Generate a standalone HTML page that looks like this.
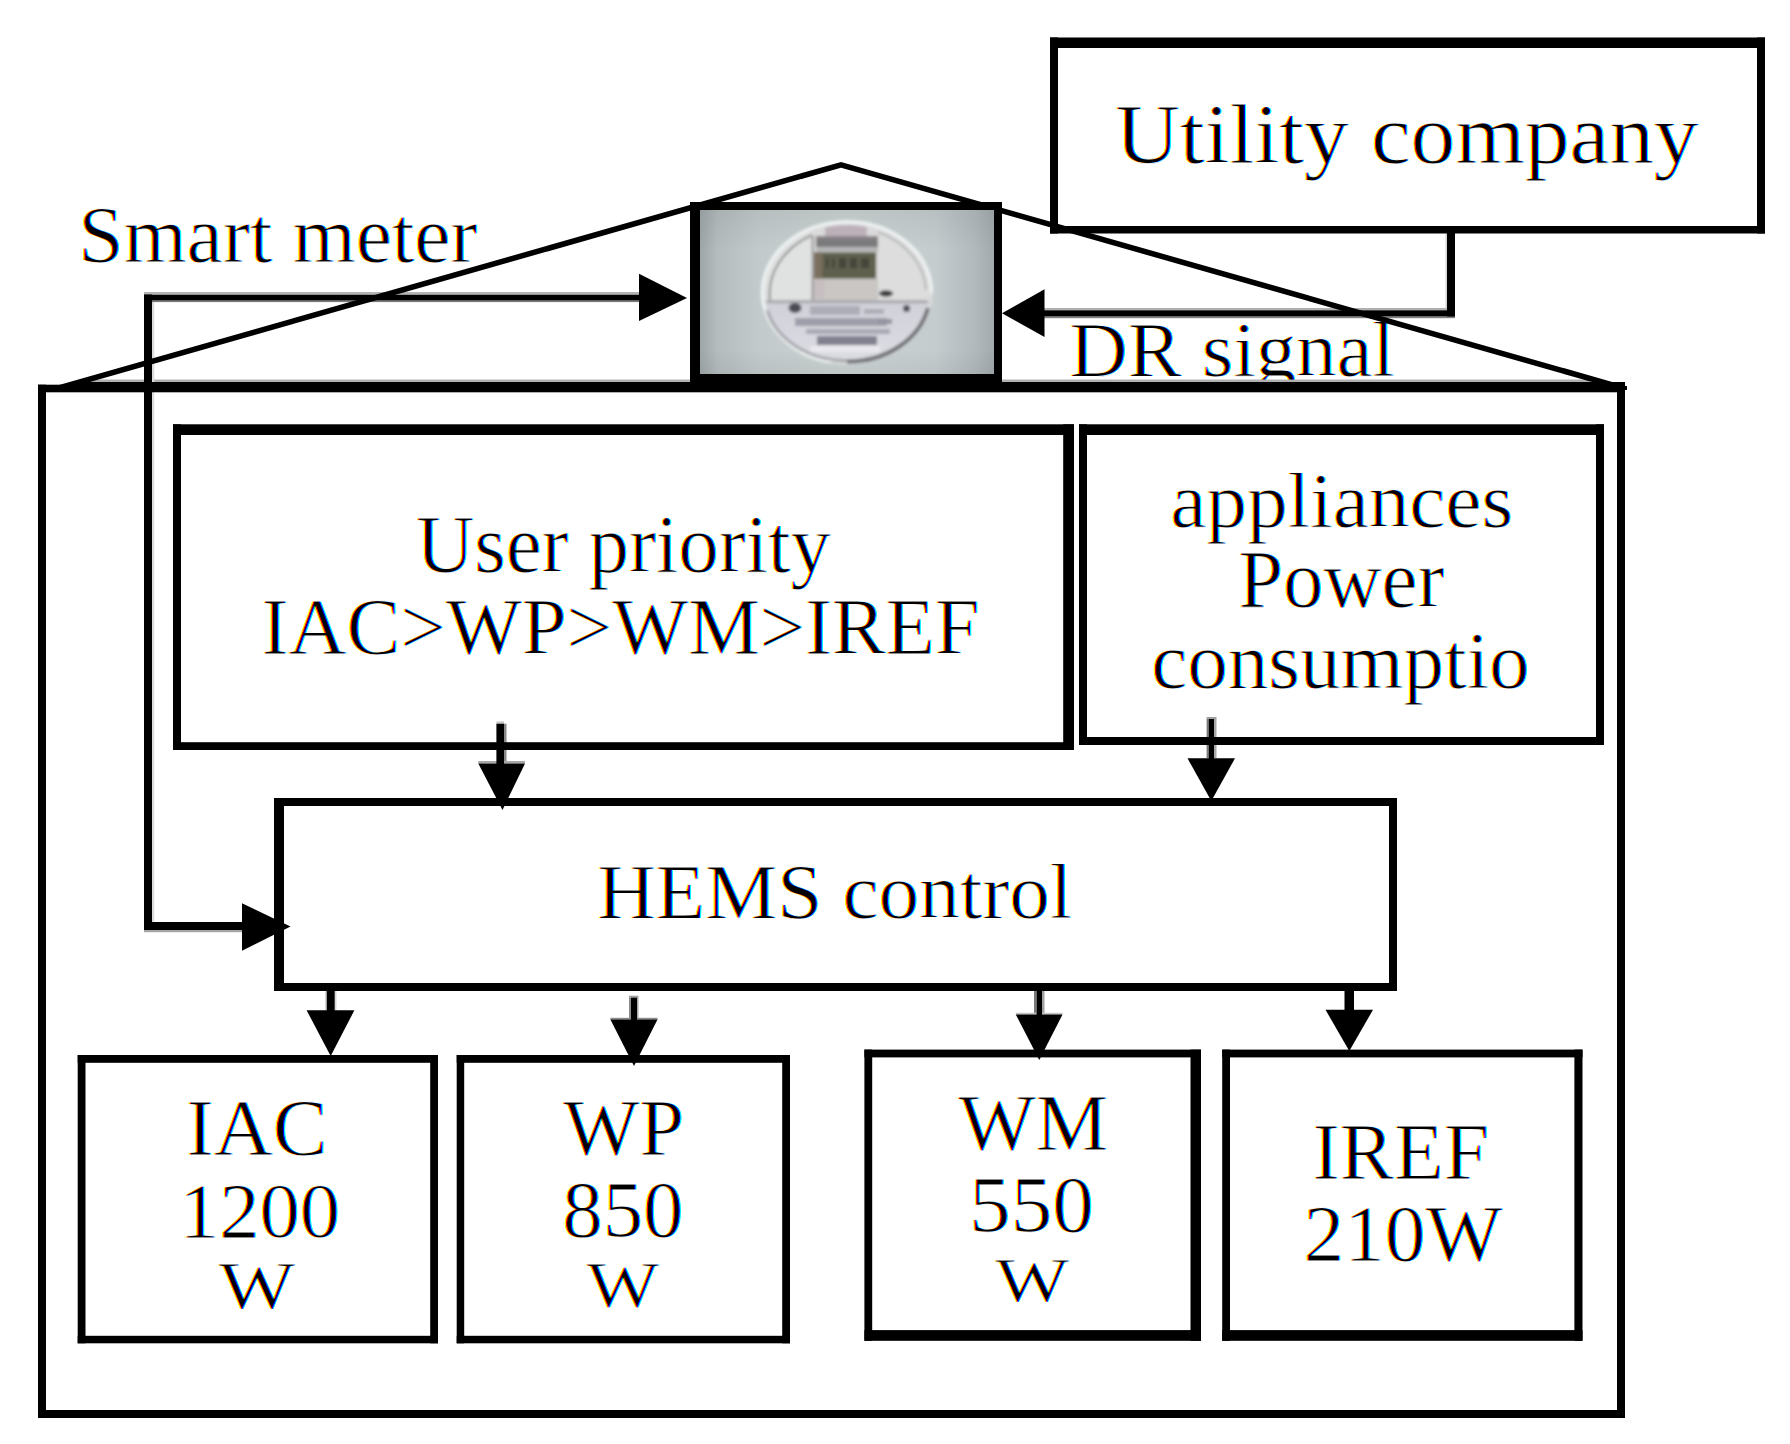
<!DOCTYPE html>
<html><head><meta charset="utf-8"><style>
html,body{margin:0;padding:0;background:#fff;}
svg{display:block;}
text{font-family:"Liberation Serif",serif;font-size:100px;stroke:#fff;}
.fb{display:none;}
@supports not (mix-blend-mode:multiply){.ct{display:none;}.fb{display:inline;}}
</style></head><body>
<svg width="1790" height="1444" viewBox="0 0 1790 1444">
<rect width="1790" height="1444" fill="#fff"/>
<clipPath id="drclip"><rect x="1000" y="300" width="500" height="80"/></clipPath>
<g class="ct" style="mix-blend-mode:multiply"><g transform="translate(-1.2 0)">
<text transform="translate(78.32 262.2) scale(0.812 0.8123)" stroke-width="1.17" fill="#ffff00">Smart meter</text>
<text transform="translate(1115.21 163.3) scale(0.8938 0.84)" stroke-width="1.096" fill="#ffff00">Utility company</text>
<g clip-path="url(#drclip)"><text transform="translate(1069.28 375.5) scale(0.8083 0.7908)" stroke-width="1.188" fill="#ffff00">DR signal</text></g>
<text transform="translate(415.99 572) scale(0.8074 0.8169)" stroke-width="1.17" fill="#ffff00">User priority</text>
<text transform="translate(261.48 654.2) scale(0.8057 0.7938)" stroke-width="1.188" fill="#ffff00">IAC&gt;WP&gt;WM&gt;IREF</text>
<text transform="translate(1170.25 527) scale(0.8123 0.7928)" stroke-width="1.184" fill="#ffff00">appliances</text>
<text transform="translate(1238.18 607) scale(0.8067 0.8169)" stroke-width="1.17" fill="#ffff00">Power</text>
<text transform="translate(1151.26 688) scale(0.8107 0.8036)" stroke-width="1.177" fill="#ffff00">consumptio</text>
<text transform="translate(596.97 918.3) scale(0.811 0.7877)" stroke-width="1.188" fill="#ffff00">HEMS control</text>
<text transform="translate(186.22 1154.5) scale(0.8202 0.7969)" stroke-width="1.175" fill="#ffff00">IAC</text>
<text transform="translate(179.06 1236.5) scale(0.8048 0.7848)" stroke-width="1.195" fill="#ffff00">1200</text>
<text transform="translate(218.4 1307.65) scale(0.8128 0.6761)" stroke-width="1.276" fill="#ffff00">W</text>
<text transform="translate(563.1 1154.5) scale(0.8075 0.7969)" stroke-width="1.184" fill="#ffff00">WP</text>
<text transform="translate(562.27 1236.5) scale(0.8077 0.7954)" stroke-width="1.185" fill="#ffff00">850</text>
<text transform="translate(586.2 1306.89) scale(0.7713 0.6537)" stroke-width="1.333" fill="#ffff00">W</text>
<text transform="translate(958.3 1149.5) scale(0.8172 0.8138)" stroke-width="1.165" fill="#ffff00">WM</text>
<text transform="translate(969.12 1231.6) scale(0.8307 0.8031)" stroke-width="1.163" fill="#ffff00">550</text>
<text transform="translate(994.9 1302.24) scale(0.7862 0.6313)" stroke-width="1.34" fill="#ffff00">W</text>
<text transform="translate(1312.44 1178.7) scale(0.8148 0.8)" stroke-width="1.177" fill="#ffff00">IREF</text>
<text transform="translate(1303.44 1261) scale(0.8137 0.8015)" stroke-width="1.176" fill="#ffff00">210W</text>
</g></g>
<g class="ct" style="mix-blend-mode:multiply"><g transform="translate(0 0)">
<text transform="translate(78.32 262.2) scale(0.812 0.8123)" stroke-width="1.17" fill="#ff00ff">Smart meter</text>
<text transform="translate(1115.21 163.3) scale(0.8938 0.84)" stroke-width="1.096" fill="#ff00ff">Utility company</text>
<g clip-path="url(#drclip)"><text transform="translate(1069.28 375.5) scale(0.8083 0.7908)" stroke-width="1.188" fill="#ff00ff">DR signal</text></g>
<text transform="translate(415.99 572) scale(0.8074 0.8169)" stroke-width="1.17" fill="#ff00ff">User priority</text>
<text transform="translate(261.48 654.2) scale(0.8057 0.7938)" stroke-width="1.188" fill="#ff00ff">IAC&gt;WP&gt;WM&gt;IREF</text>
<text transform="translate(1170.25 527) scale(0.8123 0.7928)" stroke-width="1.184" fill="#ff00ff">appliances</text>
<text transform="translate(1238.18 607) scale(0.8067 0.8169)" stroke-width="1.17" fill="#ff00ff">Power</text>
<text transform="translate(1151.26 688) scale(0.8107 0.8036)" stroke-width="1.177" fill="#ff00ff">consumptio</text>
<text transform="translate(596.97 918.3) scale(0.811 0.7877)" stroke-width="1.188" fill="#ff00ff">HEMS control</text>
<text transform="translate(186.22 1154.5) scale(0.8202 0.7969)" stroke-width="1.175" fill="#ff00ff">IAC</text>
<text transform="translate(179.06 1236.5) scale(0.8048 0.7848)" stroke-width="1.195" fill="#ff00ff">1200</text>
<text transform="translate(218.4 1307.65) scale(0.8128 0.6761)" stroke-width="1.276" fill="#ff00ff">W</text>
<text transform="translate(563.1 1154.5) scale(0.8075 0.7969)" stroke-width="1.184" fill="#ff00ff">WP</text>
<text transform="translate(562.27 1236.5) scale(0.8077 0.7954)" stroke-width="1.185" fill="#ff00ff">850</text>
<text transform="translate(586.2 1306.89) scale(0.7713 0.6537)" stroke-width="1.333" fill="#ff00ff">W</text>
<text transform="translate(958.3 1149.5) scale(0.8172 0.8138)" stroke-width="1.165" fill="#ff00ff">WM</text>
<text transform="translate(969.12 1231.6) scale(0.8307 0.8031)" stroke-width="1.163" fill="#ff00ff">550</text>
<text transform="translate(994.9 1302.24) scale(0.7862 0.6313)" stroke-width="1.34" fill="#ff00ff">W</text>
<text transform="translate(1312.44 1178.7) scale(0.8148 0.8)" stroke-width="1.177" fill="#ff00ff">IREF</text>
<text transform="translate(1303.44 1261) scale(0.8137 0.8015)" stroke-width="1.176" fill="#ff00ff">210W</text>
</g></g>
<g class="ct" style="mix-blend-mode:multiply"><g transform="translate(1.2 0)">
<text transform="translate(78.32 262.2) scale(0.812 0.8123)" stroke-width="1.17" fill="#00ffff">Smart meter</text>
<text transform="translate(1115.21 163.3) scale(0.8938 0.84)" stroke-width="1.096" fill="#00ffff">Utility company</text>
<g clip-path="url(#drclip)"><text transform="translate(1069.28 375.5) scale(0.8083 0.7908)" stroke-width="1.188" fill="#00ffff">DR signal</text></g>
<text transform="translate(415.99 572) scale(0.8074 0.8169)" stroke-width="1.17" fill="#00ffff">User priority</text>
<text transform="translate(261.48 654.2) scale(0.8057 0.7938)" stroke-width="1.188" fill="#00ffff">IAC&gt;WP&gt;WM&gt;IREF</text>
<text transform="translate(1170.25 527) scale(0.8123 0.7928)" stroke-width="1.184" fill="#00ffff">appliances</text>
<text transform="translate(1238.18 607) scale(0.8067 0.8169)" stroke-width="1.17" fill="#00ffff">Power</text>
<text transform="translate(1151.26 688) scale(0.8107 0.8036)" stroke-width="1.177" fill="#00ffff">consumptio</text>
<text transform="translate(596.97 918.3) scale(0.811 0.7877)" stroke-width="1.188" fill="#00ffff">HEMS control</text>
<text transform="translate(186.22 1154.5) scale(0.8202 0.7969)" stroke-width="1.175" fill="#00ffff">IAC</text>
<text transform="translate(179.06 1236.5) scale(0.8048 0.7848)" stroke-width="1.195" fill="#00ffff">1200</text>
<text transform="translate(218.4 1307.65) scale(0.8128 0.6761)" stroke-width="1.276" fill="#00ffff">W</text>
<text transform="translate(563.1 1154.5) scale(0.8075 0.7969)" stroke-width="1.184" fill="#00ffff">WP</text>
<text transform="translate(562.27 1236.5) scale(0.8077 0.7954)" stroke-width="1.185" fill="#00ffff">850</text>
<text transform="translate(586.2 1306.89) scale(0.7713 0.6537)" stroke-width="1.333" fill="#00ffff">W</text>
<text transform="translate(958.3 1149.5) scale(0.8172 0.8138)" stroke-width="1.165" fill="#00ffff">WM</text>
<text transform="translate(969.12 1231.6) scale(0.8307 0.8031)" stroke-width="1.163" fill="#00ffff">550</text>
<text transform="translate(994.9 1302.24) scale(0.7862 0.6313)" stroke-width="1.34" fill="#00ffff">W</text>
<text transform="translate(1312.44 1178.7) scale(0.8148 0.8)" stroke-width="1.177" fill="#00ffff">IREF</text>
<text transform="translate(1303.44 1261) scale(0.8137 0.8015)" stroke-width="1.176" fill="#00ffff">210W</text>
</g></g>
<g class="fb">
<text transform="translate(78.32 262.2) scale(0.812 0.8123)" stroke-width="1.17" fill="#000">Smart meter</text>
<text transform="translate(1115.21 163.3) scale(0.8938 0.84)" stroke-width="1.096" fill="#000">Utility company</text>
<g clip-path="url(#drclip)"><text transform="translate(1069.28 375.5) scale(0.8083 0.7908)" stroke-width="1.188" fill="#000">DR signal</text></g>
<text transform="translate(415.99 572) scale(0.8074 0.8169)" stroke-width="1.17" fill="#000">User priority</text>
<text transform="translate(261.48 654.2) scale(0.8057 0.7938)" stroke-width="1.188" fill="#000">IAC&gt;WP&gt;WM&gt;IREF</text>
<text transform="translate(1170.25 527) scale(0.8123 0.7928)" stroke-width="1.184" fill="#000">appliances</text>
<text transform="translate(1238.18 607) scale(0.8067 0.8169)" stroke-width="1.17" fill="#000">Power</text>
<text transform="translate(1151.26 688) scale(0.8107 0.8036)" stroke-width="1.177" fill="#000">consumptio</text>
<text transform="translate(596.97 918.3) scale(0.811 0.7877)" stroke-width="1.188" fill="#000">HEMS control</text>
<text transform="translate(186.22 1154.5) scale(0.8202 0.7969)" stroke-width="1.175" fill="#000">IAC</text>
<text transform="translate(179.06 1236.5) scale(0.8048 0.7848)" stroke-width="1.195" fill="#000">1200</text>
<text transform="translate(218.4 1307.65) scale(0.8128 0.6761)" stroke-width="1.276" fill="#000">W</text>
<text transform="translate(563.1 1154.5) scale(0.8075 0.7969)" stroke-width="1.184" fill="#000">WP</text>
<text transform="translate(562.27 1236.5) scale(0.8077 0.7954)" stroke-width="1.185" fill="#000">850</text>
<text transform="translate(586.2 1306.89) scale(0.7713 0.6537)" stroke-width="1.333" fill="#000">W</text>
<text transform="translate(958.3 1149.5) scale(0.8172 0.8138)" stroke-width="1.165" fill="#000">WM</text>
<text transform="translate(969.12 1231.6) scale(0.8307 0.8031)" stroke-width="1.163" fill="#000">550</text>
<text transform="translate(994.9 1302.24) scale(0.7862 0.6313)" stroke-width="1.34" fill="#000">W</text>
<text transform="translate(1312.44 1178.7) scale(0.8148 0.8)" stroke-width="1.177" fill="#000">IREF</text>
<text transform="translate(1303.44 1261) scale(0.8137 0.8015)" stroke-width="1.176" fill="#000">210W</text>
</g>

<rect x="88" y="379.5" width="1502" height="2.5" fill="#b0b0b0"/>
<rect x="1040" y="308" width="407" height="2.3" fill="#b0b0b0"/>
<rect x="1040" y="316.2" width="415" height="2.0" fill="#808080"/>
<rect x="1445.5" y="234" width="1.5" height="74" fill="#d4d4d4"/>
<rect x="152" y="302" width="2.3" height="620" fill="#dcdcdc"/>
<rect x="144" y="292" width="497" height="2.75" fill="#b4b4b4"/>
<rect x="152" y="300" width="489" height="2.1" fill="#7a7a7a"/>
<rect x="144" y="929.8" width="100" height="2.4" fill="#a4a4a4"/>
<rect x="504" y="723.7" width="2.5" height="37.3" fill="#8a8a8a"/>
<rect x="496.4" y="721.4" width="7.6" height="2.3" fill="#c8c8c8"/>
<rect x="478.3" y="761" width="46.7" height="2.4" fill="#a8a8a8"/>
<rect x="1206.6" y="719" width="2.1" height="39" fill="#7a7a7a"/>
<rect x="1214" y="719" width="2.5" height="39" fill="#a8a8a8"/>
<rect x="1206.6" y="717" width="9.9" height="2.2" fill="#a0a0a0"/>
<rect x="325" y="991" width="1.7" height="19" fill="#d8d8d8"/>
<rect x="334.7" y="991" width="1.8" height="19" fill="#d8d8d8"/>
<rect x="629" y="997.7" width="2" height="20.3" fill="#8a8a8a"/>
<rect x="637" y="997.7" width="1.5" height="20.3" fill="#a8a8a8"/>
<rect x="629" y="995.7" width="9.5" height="2.2" fill="#a0a0a0"/>
<rect x="610.4" y="1017.8" width="47.1" height="1.8" fill="#8a8a8a"/>
<rect x="1034" y="991" width="2.6" height="22" fill="#7a7a7a"/>
<rect x="1042" y="991" width="2.5" height="22" fill="#a0a0a0"/>
<rect x="1015.8" y="1012.8" width="46.7" height="1.8" fill="#c4c4c4"/>
<rect x="71" y="382" width="1554" height="10.3" fill="#000"/>
<rect x="38" y="384.7" width="33" height="7.6" fill="#000"/>
<clipPath id="roofclip"><rect x="38" y="0" width="1589" height="390"/></clipPath>
<rect x="38" y="384.7" width="8" height="1033.3" fill="#000"/>
<rect x="1617" y="382" width="8" height="1036" fill="#000"/>
<rect x="38" y="1410" width="1587" height="8" fill="#000"/>
<rect x="1050" y="37.5" width="715" height="10.5" fill="#000"/><rect x="1050" y="226.0" width="715" height="7.5" fill="#000"/><rect x="1050" y="37.5" width="8" height="196.0" fill="#000"/><rect x="1757" y="37.5" width="8" height="196.0" fill="#000"/>
<rect x="1447" y="226" width="8" height="90.5" fill="#000"/>
<rect x="1040" y="310.3" width="415" height="6.0" fill="#000"/>
<polygon points="1002,313.2 1044.5,289.3 1044.5,337" fill="#000"/>
<rect x="144" y="294.5" width="8" height="635.5" fill="#000"/>
<rect x="144" y="294.75" width="497" height="5.45" fill="#000"/>
<polygon points="687,298 639,273.7 639,321" fill="#000"/>
<rect x="144" y="922" width="100" height="8" fill="#000"/>
<polygon points="290.5,926.5 242,903.3 242,950.8" fill="#000"/>
<rect x="173" y="424.3" width="901" height="10.7" fill="#000"/><rect x="173" y="742.2" width="901" height="7.8" fill="#000"/><rect x="173" y="424.3" width="8" height="325.7" fill="#000"/><rect x="1063.2" y="424.3" width="10.8" height="325.7" fill="#000"/>
<rect x="1079" y="424.3" width="525" height="10.7" fill="#000"/><rect x="1079" y="737" width="525" height="8" fill="#000"/><rect x="1079" y="424.3" width="8" height="320.7" fill="#000"/><rect x="1596" y="424.3" width="8" height="320.7" fill="#000"/>
<rect x="496.4" y="723.7" width="7.6" height="41.3" fill="#000"/>
<polygon points="478.3,763.4 525,763.4 502.5,810" fill="#000"/>
<rect x="1208.7" y="719" width="5.3" height="41" fill="#000"/>
<polygon points="1187.5,758.2 1235,758.2 1211.3,801" fill="#000"/>
<rect x="274" y="798" width="1123" height="8" fill="#000"/><rect x="274" y="983" width="1123" height="8" fill="#000"/><rect x="274" y="798" width="10" height="193" fill="#000"/><rect x="1389" y="798" width="8" height="193" fill="#000"/>
<rect x="326.7" y="988" width="8.0" height="24" fill="#000"/>
<polygon points="306.6,1010.2 354.4,1010.2 330.7,1056" fill="#000"/>
<rect x="631" y="997.7" width="6" height="23.3" fill="#000"/>
<polygon points="610.4,1019.5 657.5,1019.5 634,1066" fill="#000"/>
<rect x="1036.6" y="991" width="5.4" height="25" fill="#000"/>
<polygon points="1015.8,1014.5 1062.5,1014.5 1039.3,1060" fill="#000"/>
<rect x="1344.5" y="988" width="9.5" height="23" fill="#000"/>
<polygon points="1325.5,1009.7 1373,1009.7 1349.3,1051" fill="#000"/>
<rect x="77.7" y="1055" width="360.3" height="7.8" fill="#000"/><rect x="77.7" y="1335.8" width="360.3" height="7.5" fill="#000"/><rect x="77.7" y="1055" width="7.8" height="288.3" fill="#000"/><rect x="430.2" y="1055" width="7.8" height="288.3" fill="#000"/>
<rect x="456.7" y="1055" width="333.3" height="7.8" fill="#000"/><rect x="456.7" y="1335.8" width="333.3" height="7.5" fill="#000"/><rect x="456.7" y="1055" width="7.5" height="288.3" fill="#000"/><rect x="782.2" y="1055" width="7.8" height="288.3" fill="#000"/>
<rect x="864.4" y="1049.6" width="336.6" height="7.8" fill="#000"/><rect x="864.4" y="1330.1" width="336.6" height="10.7" fill="#000"/><rect x="864.4" y="1049.6" width="7.8" height="291.2" fill="#000"/><rect x="1190.5" y="1049.6" width="10.5" height="291.2" fill="#000"/>
<rect x="1222.2" y="1049.6" width="360.3" height="7.8" fill="#000"/><rect x="1222.2" y="1330.1" width="360.3" height="10.7" fill="#000"/><rect x="1222.2" y="1049.6" width="7.8" height="291.2" fill="#000"/><rect x="1574.4" y="1049.6" width="8.1" height="291.2" fill="#000"/>
<polyline clip-path="url(#roofclip)" points="30,396.2 841,164.8 1652,396.2" fill="none" stroke="#000" stroke-width="5.6" stroke-linejoin="miter" stroke-miterlimit="20"/>

<defs>
 <linearGradient id="bgx" x1="700" y1="0" x2="994" y2="0" gradientUnits="userSpaceOnUse">
  <stop offset="0" stop-color="#9ea6a8"/>
  <stop offset="0.06" stop-color="#b4bcbd"/>
  <stop offset="0.2" stop-color="#c2cacb"/>
  <stop offset="0.5" stop-color="#cad2d2"/>
  <stop offset="0.8" stop-color="#c4ccce"/>
  <stop offset="0.93" stop-color="#b2babe"/>
  <stop offset="1" stop-color="#a2aaae"/>
 </linearGradient>
 <linearGradient id="bgy" x1="0" y1="210" x2="0" y2="374" gradientUnits="userSpaceOnUse">
  <stop offset="0" stop-color="#000" stop-opacity="0.06"/>
  <stop offset="0.25" stop-color="#000" stop-opacity="0"/>
  <stop offset="0.85" stop-color="#000" stop-opacity="0"/>
  <stop offset="1" stop-color="#000" stop-opacity="0.05"/>
 </linearGradient>
 <linearGradient id="lower" x1="0" y1="302" x2="0" y2="364" gradientUnits="userSpaceOnUse">
  <stop offset="0" stop-color="#d0d0d8"/>
  <stop offset="0.6" stop-color="#d8d8e0"/>
  <stop offset="1" stop-color="#dcdce2"/>
 </linearGradient>
 <clipPath id="mclip"><rect x="700" y="210" width="294" height="164"/></clipPath>
 <clipPath id="upperclip"><rect x="700" y="200" width="300" height="101"/></clipPath>
 <clipPath id="lowerclip"><rect x="700" y="301" width="300" height="80"/></clipPath>
 <filter id="mblur" x="-5%" y="-5%" width="110%" height="110%"><feGaussianBlur stdDeviation="1.5"/></filter>
 <clipPath id="rimclip"><path d="M700,200 H1000 V265 L890,310 L800,390 H700 Z"/></clipPath>
 <clipPath id="faceclip"><ellipse cx="847" cy="292.4" rx="81.5" ry="67.5"/></clipPath>
</defs>
<rect x="690" y="202" width="312" height="190" fill="#000"/>
<g clip-path="url(#mclip)">
 <rect x="700" y="210" width="294" height="164" fill="url(#bgx)"/>
 <rect x="700" y="210" width="294" height="164" fill="url(#bgy)"/>
 <g filter="url(#mblur)">
 <ellipse cx="847" cy="292.4" rx="86" ry="72" fill="#dadada"/>
 <g clip-path="url(#lowerclip)"><ellipse cx="847" cy="292.4" rx="84" ry="70" fill="url(#lower)"/></g>
 <g clip-path="url(#faceclip)">
 <rect x="760" y="230" width="52" height="70.5" fill="#e0e2e1"/>
 <rect x="878" y="230" width="60" height="70.5" fill="#dddddd"/>
 <rect x="825" y="222" width="42" height="14" fill="#bdb1b9"/>
 <rect x="816" y="236" width="62" height="3" fill="#8a8288"/>
 <rect x="816" y="239" width="62" height="8" fill="#7a7a7c"/>
 <rect x="816" y="247" width="62" height="5.5" fill="#b6b6b6"/>
 <rect x="814.2" y="252.5" width="62" height="26.3" fill="#5f5e4e"/>
 <rect x="814.2" y="252.5" width="8" height="26.3" fill="#7c705e"/>
 <g fill="#45443a"><rect x="826" y="258" width="2.5" height="10"/><rect x="832" y="258" width="2.5" height="10"/><rect x="839" y="258" width="7" height="10"/><rect x="850" y="258" width="7" height="10"/><rect x="861" y="258" width="8" height="10"/></g>
 <rect x="814" y="278.8" width="64" height="21.5" fill="#c9c6c3"/>
 <rect x="814" y="280" width="10" height="18" fill="#c6bec0"/>
 <rect x="811.5" y="236" width="2.5" height="64" fill="#a09ea0"/>
 <rect x="760" y="300.2" width="175" height="3" fill="#a6a6ac"/>
 <g fill="#9494a2">
  <rect x="810" y="306" width="50" height="9" opacity="0.6"/><rect x="864" y="309" width="20" height="5" opacity="0.6"/>
  <rect x="795" y="318" width="92" height="8" opacity="0.85"/><rect x="878" y="319" width="14" height="5"/>
  <rect x="806" y="329" width="84" height="5" opacity="0.7"/>
  <rect x="817" y="336" width="60" height="9" fill="#80808e"/>
 </g>
 <rect x="810" y="346" width="70" height="6" fill="#e8e8ee"/>
 <ellipse cx="795" cy="308" rx="6.5" ry="5" fill="#4c4c54"/>
 <ellipse cx="906.5" cy="308.5" rx="3.5" ry="3.5" fill="#4c4c54"/>
 <ellipse cx="886" cy="293.5" rx="7" ry="3.2" fill="#3a3a3e"/>
 </g>
 <path d="M 770 300 A 80.5 66.5 0 0 1 812 235" fill="none" stroke="#8e9092" stroke-width="2.2"/>
 <path d="M 878 232 A 80.5 66.5 0 0 1 926 290" fill="none" stroke="#b4b6b8" stroke-width="2"/>
 <ellipse clip-path="url(#rimclip)" cx="847" cy="292.4" rx="84.5" ry="70.5" fill="none" stroke="#eef2f2" stroke-width="3.5"/>
 <path d="M 767 310 A 81.5 68 0 0 0 847 360.4" fill="none" stroke="#a2a4aa" stroke-width="3"/>
 <path d="M 847 361.5 A 82 69 0 0 0 928 308" fill="none" stroke="#6e7074" stroke-width="4"/>
 </g>
</g>

</svg>
</body></html>
